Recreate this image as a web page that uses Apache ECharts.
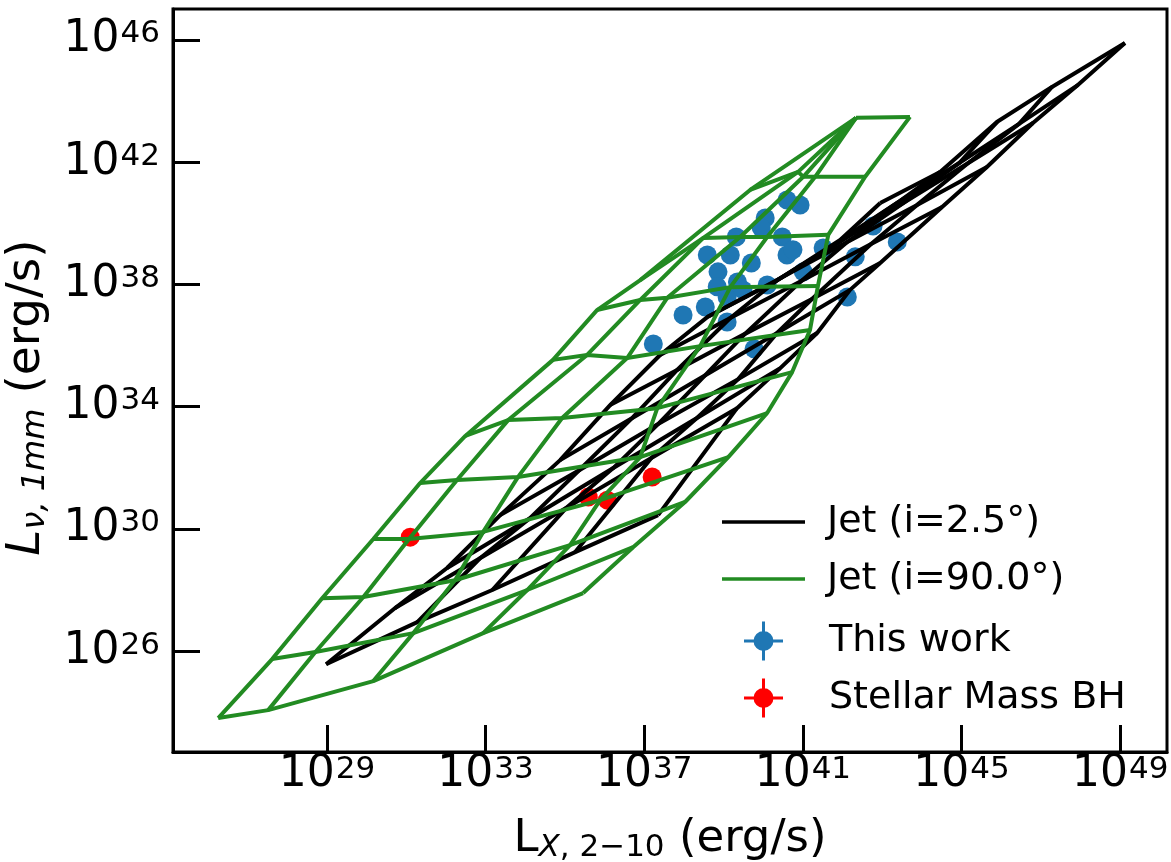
<!DOCTYPE html>
<html>
<head>
<meta charset="utf-8">
<script src="https://cdn.jsdelivr.net/npm/echarts@6/dist/echarts.min.js"></script>
<style>
html,body{margin:0;padding:0;background:#fff}
#chart{width:1171px;height:862px}
</style>
</head>
<body>
<div id="chart"></div>
<script>
// All luminosities are log10(L / erg s^-1)
const xTicks = [29, 33, 37, 41, 45, 49];
const yTicks = [26, 30, 34, 38, 42, 46];

// "This work" sources
const thisWorkLx  = [37.23,37.98,38.54,38.59,38.86,38.84,39.09,39.09,39.17,39.32,39.35,39.49,39.70,39.77,40.05,39.95,40.10,40.48,40.60,40.93,40.60,40.75,41.01,41.51,42.12,42.32,42.77,43.38];
const thisWorkLmm = [36.05,37.00,37.26,38.96,38.41,37.92,37.59,36.77,38.96,39.55,38.08,37.82,38.70,35.89,40.17,39.85,37.98,39.55,40.76,40.60,38.96,39.13,38.41,39.19,37.59,38.90,39.91,39.39];

// Stellar mass black holes
const stellarLx  = [31.10, 35.59, 36.07, 37.20];
const stellarLmm = [29.73, 31.04, 30.94, 31.70];

// Jet model grid, i = 90 deg: one row per black-hole mass, one entry per accretion rate
const jet90Lx = [
  [26.26, 27.52, 30.17, 32.94, 35.46],
  [27.62, 28.71, 31.18, 34.05, 36.72],
  [28.88, 29.92, 32.23, 35.13, 38.03],
  [30.17, 31.07, 32.94, 35.89, 39.12],
  [31.35, 32.28, 33.82, 36.90, 40.10],
  [32.49, 33.57, 34.93, 37.33, 40.73],
  [34.70, 35.56, 36.57, 38.41, 41.18],
  [35.81, 36.90, 37.58, 39.17, 41.38],
  [36.90, 38.49, 39.42, 40.10, 41.64],
  [39.67, 40.88, 41.01, 41.31, 42.57],
  [42.34, 42.34, 42.34, 42.34, 43.70]
];
const jet90Lmm = [
  [23.81, 24.07, 25.02, 26.59, 27.90],
  [25.74, 25.97, 26.59, 28.00, 29.40],
  [27.73, 27.77, 28.32, 29.47, 30.88],
  [29.67, 29.67, 29.90, 30.94, 32.35],
  [31.50, 31.60, 31.70, 32.35, 33.79],
  [33.04, 33.56, 33.63, 33.95, 35.13],
  [35.53, 35.69, 35.59, 35.98, 36.51],
  [37.16, 37.49, 37.56, 37.91, 37.95],
  [38.14, 39.52, 39.55, 39.55, 39.62],
  [41.09, 41.68, 41.52, 41.52, 41.52],
  [43.45, 43.45, 43.45, 43.45, 43.48]
];

// Jet model grid, i = 2.5 deg: same layout
const jet2Lx = [
  [28.98, 31.28, 33.17, 35.26, 37.35],
  [30.72, 32.86, 35.03, 37.18, 39.34],
  [32.03, 34.12, 36.22, 38.33, 40.43],
  [33.37, 35.36, 37.35, 39.37, 41.36],
  [34.88, 36.70, 38.54, 40.35, 42.19],
  [36.14, 37.83, 39.54, 41.23, 42.95],
  [37.40, 39.17, 40.96, 42.72, 44.51],
  [38.59, 40.35, 42.12, 43.88, 45.64],
  [40.25, 41.89, 43.53, 45.17, 46.80],
  [41.94, 43.45, 44.94, 46.45, 47.94],
  [42.95, 44.46, 45.90, 47.28, 49.12]
];
const jet2Lmm = [
  [25.57, 26.95, 28.00, 29.24, 30.45],
  [27.41, 29.04, 30.68, 32.32, 33.95],
  [28.72, 30.35, 31.99, 33.63, 35.26],
  [30.45, 31.92, 33.43, 34.90, 36.41],
  [32.25, 33.63, 35.03, 36.41, 37.82],
  [34.05, 35.20, 36.38, 37.52, 38.70],
  [35.69, 36.90, 38.11, 39.32, 40.53],
  [36.93, 38.14, 39.39, 40.60, 41.84],
  [38.05, 39.36, 40.66, 41.97, 43.28],
  [39.45, 40.73, 41.97, 43.25, 44.53],
  [40.66, 41.68, 43.32, 44.46, 45.90]
];

const FONT = 'DejaVu Sans';
const NAME_BLACK = 'Jet (i=2.5°)';
const NAME_GREEN = 'Jet (i=90.0°)';
const NAME_BLUE = 'This work';
const NAME_RED = 'Stellar Mass BH';
const LW = 4;

function zip(a, b) { return a.map((v, i) => [v, b[i]]); }

// Turn a mass x accretion-rate grid into polylines along both grid directions
function gridLines(gx, gy, name, color, z) {
  const out = [];
  const rows = gx.length, cols = gx[0].length;
  const mk = pts => ({
    name, type: 'line', data: pts, symbol: 'none', showSymbol: false, z,
    lineStyle: { color: color, width: LW, opacity: 1 },
    itemStyle: { color: color },
    emphasis: { disabled: true },
    silent: true, animation: false, clip: true
  });
  for (let r = 0; r < rows; r++) out.push(mk(zip(gx[r], gy[r])));
  for (let c = 0; c < cols; c++) out.push(mk(gx.map((row, r) => [row[c], gy[r][c]])));
  return out;
}

const tickRich = {
  b: { fontFamily: FONT, fontSize: 44, color: '#000' },
  s: { fontFamily: FONT, fontSize: 31, color: '#000', padding: [0, 0, 11, 1] }
};
const expLabel = v => '{b|10}{s|' + Math.round(v) + '}';

const markerIcon = 'path://M0,18h39v3h-39z M18,0h3v39h-3z M29.5,19.5a10,10 0 1,1 -20,0a10,10 0 1,1 20,0z';

const chart = echarts.init(document.getElementById('chart'), null, { renderer: 'canvas' });

const option = {
  animation: false,
  backgroundColor: '#fff',
  grid: {
    left: 173, right: 4, top: 9, bottom: 110,
    containLabel: false, outerBoundsMode: 'none',
    show: true, borderColor: '#000', borderWidth: 3, backgroundColor: 'transparent'
  },
  xAxis: {
    type: 'value', min: 25.12, max: 50.18,
    axisLine: { show: true, lineStyle: { color: '#000', width: 3 } },
    axisTick: { show: true, inside: true, length: 27, lineStyle: { color: '#000', width: 3 }, customValues: xTicks },
    axisLabel: { customValues: xTicks, formatter: expLabel, rich: tickRich, margin: 1 },
    splitLine: { show: false },
    name: '{n|L}{si|X}{s|, 2−10}{n| (erg/s)}',
    nameLocation: 'middle', nameGap: 63,
    nameTextStyle: {
      rich: {
        n: { fontFamily: FONT, fontSize: 45, color: '#000' },
        si: { fontFamily: FONT, fontSize: 31, fontStyle: 'italic', color: '#000', padding: [17, 0, 0, 0] },
        s: { fontFamily: FONT, fontSize: 31, color: '#000', padding: [17, 0, 0, 0] }
      }
    }
  },
  yAxis: {
    type: 'value', min: 22.70, max: 47.01,
    axisLine: { show: true, lineStyle: { color: '#000', width: 3 } },
    axisTick: { show: true, inside: true, length: 27, lineStyle: { color: '#000', width: 3 }, customValues: yTicks },
    axisLabel: { customValues: yTicks, formatter: expLabel, rich: tickRich, margin: 13 },
    splitLine: { show: false },
    name: '{i|L}{si|ν, 1mm}{n| (erg/s)}',
    nameLocation: 'middle', nameGap: 121, nameRotate: 90,
    nameTextStyle: {
      padding: [0, 34, 0, 0],
      rich: {
        i: { fontFamily: FONT, fontSize: 47, fontStyle: 'italic', color: '#000' },
        n: { fontFamily: FONT, fontSize: 47, color: '#000' },
        si: { fontFamily: FONT, fontSize: 32, fontStyle: 'italic', color: '#000', padding: [18, 0, 0, 0] }
      }
    }
  },
  legend: [
    {
      data: [{ name: NAME_BLACK, icon: 'rect' }, { name: NAME_GREEN, icon: 'rect' }],
      orient: 'vertical', left: 717, top: 497.5,
      itemWidth: 83, itemHeight: 3.3, itemGap: 18, selectedMode: false,
      textStyle: { fontFamily: FONT, fontSize: 38, color: '#000', padding: [0, 0, 0, 17], lineHeight: 39 }
    },
    {
      data: [{ name: NAME_BLUE, icon: markerIcon }, { name: NAME_RED, icon: markerIcon }],
      orient: 'vertical', left: 739, top: 616.5,
      itemWidth: 39, itemHeight: 39, itemGap: 18, selectedMode: false,
      textStyle: { fontFamily: FONT, fontSize: 38, color: '#000', padding: [0, 0, 0, 41], lineHeight: 39 }
    }
  ],
  series: [
    { name: NAME_BLUE, type: 'scatter', data: zip(thisWorkLx, thisWorkLmm), symbolSize: 19, z: 1,
      itemStyle: { color: '#1f77b4', opacity: 1 }, silent: true },
    { name: NAME_RED, type: 'scatter', data: zip(stellarLx, stellarLmm), symbolSize: 19, z: 1,
      itemStyle: { color: '#ff0000', opacity: 1 }, silent: true },
    ...gridLines(jet2Lx, jet2Lmm, NAME_BLACK, '#000000', 2),
    ...gridLines(jet90Lx, jet90Lmm, NAME_GREEN, '#228b22', 3)
  ]
};
chart.setOption(option);
</script>
</body>
</html>
